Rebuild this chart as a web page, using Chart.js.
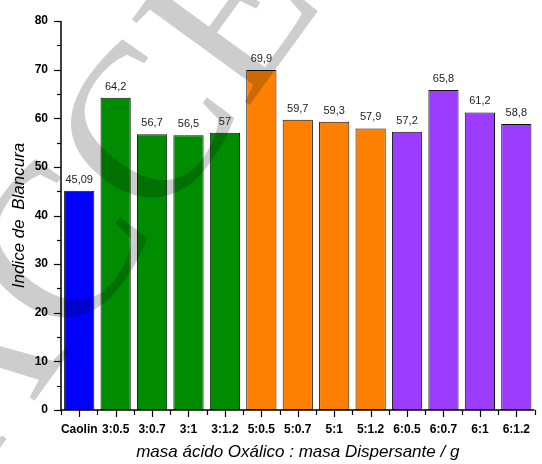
<!DOCTYPE html>
<html>
<head>
<meta charset="utf-8">
<script src="https://cdn.jsdelivr.net/npm/chart.js@4/dist/chart.umd.min.js"></script>
<style>
html,body{margin:0;padding:0;background:#fff;}
#wrap{width:542px;height:464px;position:relative;}
</style>
</head>
<body>
<div id="wrap"><canvas id="c" width="542" height="464"></canvas></div>
<script>
const categories = ['Caolin','3:0.5','3:0.7','3:1','3:1.2','5:0.5','5:0.7','5:1','5:1.2','6:0.5','6:0.7','6:1','6:1.2'];
const values = [45.09, 64.2, 56.7, 56.5, 57, 69.9, 59.7, 59.3, 57.9, 57.2, 65.8, 61.2, 58.8];
const valueLabels = ['45,09','64,2','56,7','56,5','57','69,9','59,7','59,3','57,9','57,2','65,8','61,2','58,8'];
const groups = ['Caolin','3','3','3','3','5','5','5','5','6','6','6','6'];
const groupColors = {Caolin:'#0000ff','3':'#008c00','5':'#ff8000','6':'#9b3cff'};
const yTicks = [0,10,20,30,40,50,60,70,80];

const font = 'Arial, "Liberation Sans", sans-serif';

// faint rotated journal mark, multiplied over the bars
const markPlugin = {
  id: 'markPlugin',
  afterDatasetsDraw(chart) {
    const {ctx} = chart;
    ctx.save();
    ctx.globalCompositeOperation = 'multiply';
    ctx.translate(-70, 445);
    ctx.rotate(-0.942);
    ctx.fillStyle = '#cdcdcd';
    ctx.font = '222px "Liberation Serif", "DejaVu Serif", serif';
    ctx.textAlign = 'left';
    ctx.textBaseline = 'middle';
    ctx.fillText('ACCEFYN', 0, 0);
    ctx.restore();
  }
};

// axis lines, tick marks and value labels
const axesPlugin = {
  id: 'axesPlugin',
  afterDatasetsDraw(chart) {
    const {ctx, chartArea: a, scales: {x, y}} = chart;
    ctx.save();
    ctx.strokeStyle = '#000';
    ctx.lineWidth = 1.5;
    ctx.beginPath();
    ctx.moveTo(a.left, a.top);
    ctx.lineTo(a.left, a.bottom);
    ctx.lineTo(a.right, a.bottom);
    ctx.stroke();
    ctx.lineWidth = 1.2;
    // y ticks: major every 10, minor every 5
    for (let v = 0; v <= 80; v += 5) {
      const py = Math.round(y.getPixelForValue(v)) + 0.5;
      const len = v % 10 === 0 ? 7 : 4;
      ctx.beginPath();
      ctx.moveTo(a.left - len, py);
      ctx.lineTo(a.left, py);
      ctx.stroke();
    }
    // x ticks: short ones at category boundaries, long ones at centres
    const n = categories.length;
    const step = (a.right - a.left) / n;
    for (let i = 0; i <= n; i++) {
      const px = Math.round(a.left + i * step) + 0.5;
      ctx.beginPath();
      ctx.moveTo(px, a.bottom);
      ctx.lineTo(px, a.bottom + 5);
      ctx.stroke();
    }
    for (let i = 0; i < n; i++) {
      const px = Math.round(x.getPixelForValue(i)) + 0.5;
      ctx.beginPath();
      ctx.moveTo(px, a.bottom);
      ctx.lineTo(px, a.bottom + 7);
      ctx.stroke();
    }
    // value labels
    ctx.fillStyle = '#222';
    ctx.font = '11px ' + font;
    ctx.textAlign = 'center';
    ctx.textBaseline = 'alphabetic';
    const meta = chart.getDatasetMeta(0);
    meta.data.forEach((bar, i) => {
      ctx.fillText(valueLabels[i], bar.x, bar.y - 8);
    });
    ctx.restore();
  }
};

new Chart(document.getElementById('c'), {
  type: 'bar',
  data: {
    labels: categories,
    datasets: [{
      data: values,
      backgroundColor: groups.map(g => groupColors[g]),
      borderColor: '#111',
      borderWidth: 1,
      borderSkipped: false,
      barPercentage: 0.83,
      categoryPercentage: 1
    }]
  },
  options: {
    responsive: false,
    animation: false,
    layout: {padding: {top: 21, right: 0, left: 0, bottom: 0}},
    plugins: {legend: {display: false}, tooltip: {enabled: false}},
    scales: {
      x: {
        afterFit(s) { s.height = 54; },
        grid: {display: false, drawTicks: false},
        border: {display: false},
        ticks: {color: '#000', font: {family: font, size: 12, weight: 'bold'}, padding: 12, maxRotation: 0, autoSkip: false},
        title: {display: true, text: 'masa ácido Oxálico : masa Dispersante / g', color: '#000',
                font: {family: font, size: 17, style: 'italic'}, padding: {top: 0, bottom: 2}}
      },
      y: {
        min: 0, max: 80,
        afterFit(s) { s.width = 61; },
        afterBuildTicks(s) { s.ticks = yTicks.map(v => ({value: v})); },
        grid: {display: false, drawTicks: false},
        border: {display: false},
        ticks: {color: '#000', font: {family: font, size: 12, weight: 'bold'}, padding: 13},
        title: {display: true, text: 'Indice de  Blancura', color: '#000',
                font: {family: font, size: 17, style: 'italic'}, padding: {top: 9, bottom: 0}}
      }
    }
  },
  plugins: [markPlugin, axesPlugin]
});
</script>
</body>
</html>
